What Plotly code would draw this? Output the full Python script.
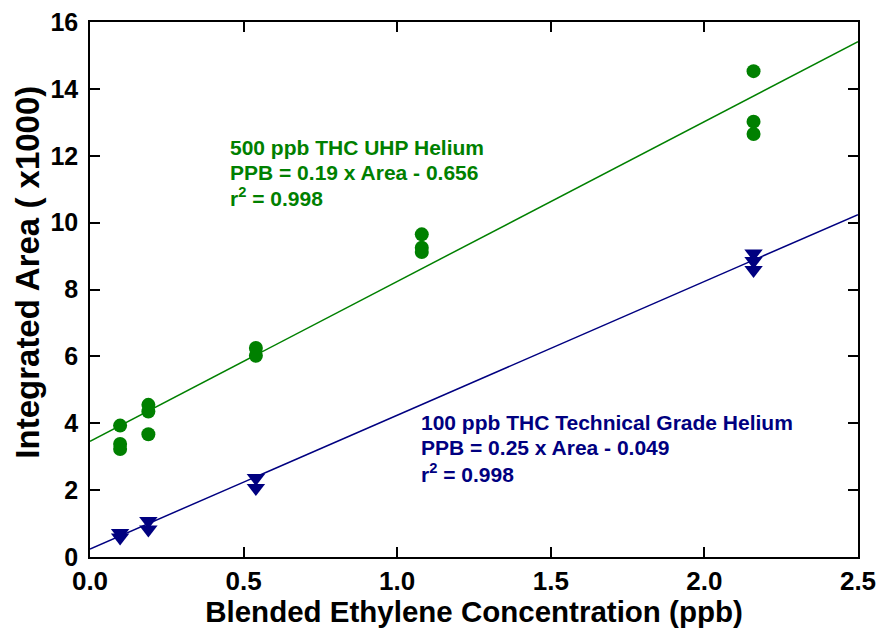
import plotly.graph_objects as go

# Data
conc_uhp = [0.098, 0.098, 0.098, 0.19, 0.19, 0.19, 0.54, 0.54, 1.08, 1.08, 1.08, 2.16, 2.16, 2.16]
area_uhp = [3.93, 3.38, 3.23, 4.55, 4.35, 3.67, 6.25, 6.02, 9.65, 9.25, 9.12, 14.53, 13.02, 12.65]

conc_tech = [0.098, 0.098, 0.19, 0.19, 0.54, 0.54, 2.16, 2.16, 2.16]
area_tech = [0.72, 0.58, 1.08, 0.82, 2.36, 2.06, 9.08, 8.85, 8.58]

# Fit lines (intercept, slope)
fit_uhp = (3.46, 4.78)
fit_tech = (0.24, 4.00)
fit_x = [0.0, 2.5]

x_ticks = [0, 0.5, 1.0, 1.5, 2.0, 2.5]
x_ticklabels = ["0.0", "0.5", "1.0", "1.5", "2.0", "2.5"]
y_ticks = [0, 2, 4, 6, 8, 10, 12, 14, 16]
y_ticklabels = ["0", "2", "4", "6", "8", "10", "12", "14", "16"]

uhp_lines = ["500 ppb THC UHP Helium", "PPB = 0.19 x Area - 0.656", "r<sup>2</sup> = 0.998"]
tech_lines = ["100 ppb THC Technical Grade Helium", "PPB = 0.25 x Area - 0.049", "r<sup>2</sup> = 0.998"]

GREEN = "#008000"
BLUE = "#000080"
FONT = "Liberation Sans, Arial, sans-serif"

fig = go.Figure()
fig.add_trace(go.Scatter(x=fit_x, y=[fit_uhp[0] + fit_uhp[1] * v for v in fit_x],
                         mode="lines", line=dict(color=GREEN, width=1.5), hoverinfo="skip"))
fig.add_trace(go.Scatter(x=fit_x, y=[fit_tech[0] + fit_tech[1] * v for v in fit_x],
                         mode="lines", line=dict(color=BLUE, width=1.5), hoverinfo="skip"))
fig.add_trace(go.Scatter(x=conc_uhp, y=area_uhp, mode="markers",
                         marker=dict(symbol="circle", size=14, color=GREEN)))
fig.add_trace(go.Scatter(x=conc_tech, y=area_tech, mode="markers",
                         marker=dict(symbol="triangle-down", size=16, color=BLUE)))

for i, line in enumerate(uhp_lines):
    fig.add_annotation(x=0.45, y=12.26 - 0.75 * i, xref="x", yref="y", xanchor="left",
                       yanchor="middle", align="left", showarrow=False,
                       text="<b>%s</b>" % line,
                       font=dict(family=FONT, size=21, color=GREEN))
for i, line in enumerate(tech_lines):
    fig.add_annotation(x=1.072, y=4.01 - 0.75 * i, xref="x", yref="y", xanchor="left",
                       yanchor="middle", align="left", showarrow=False,
                       text="<b>%s</b>" % line,
                       font=dict(family=FONT, size=21, color=BLUE))

# Y axis title placed as a rotated annotation (sits slightly above the axis centre)
fig.add_annotation(x=-0.081, y=0.533, xref="paper", yref="paper", xanchor="center",
                   yanchor="middle", textangle=-90, showarrow=False,
                   text="<b>Integrated Area ( x1000)</b>",
                   font=dict(family=FONT, size=33, color="black"))

axis_common = dict(showgrid=False, zeroline=False, showline=True, linecolor="black", linewidth=1.5,
                   mirror="ticks", ticks="inside", ticklen=10, tickwidth=1.5, tickcolor="black",
                   automargin=False, ticklabeloverflow="allow")

fig.update_xaxes(range=[0, 2.5], tickvals=x_ticks,
                 ticktext=["<b>%s</b>" % t for t in x_ticklabels],
                 tickfont=dict(family=FONT, size=26, color="black"),
                 title=dict(text="<b>Blended Ethylene Concentration (ppb)</b>",
                            font=dict(family=FONT, size=29.5, color="black"), standoff=0),
                 **axis_common)
fig.update_yaxes(range=[0, 16], tickvals=y_ticks,
                 ticktext=["<b>%s</b>" % t for t in y_ticklabels],
                 tickfont=dict(family=FONT, size=25, color="black"),
                 ticklabelstandoff=5,
                 **axis_common)

fig.update_layout(width=879, height=628, showlegend=False,
                  plot_bgcolor="white", paper_bgcolor="white",
                  margin=dict(l=90, r=21, t=22, b=71))

# Remove the default page margin so the figure fills the window exactly.
fig.write_html("out.html", config={"displayModeBar": False},
               post_script="document.body.style.margin='0';document.body.style.overflow='hidden';")
